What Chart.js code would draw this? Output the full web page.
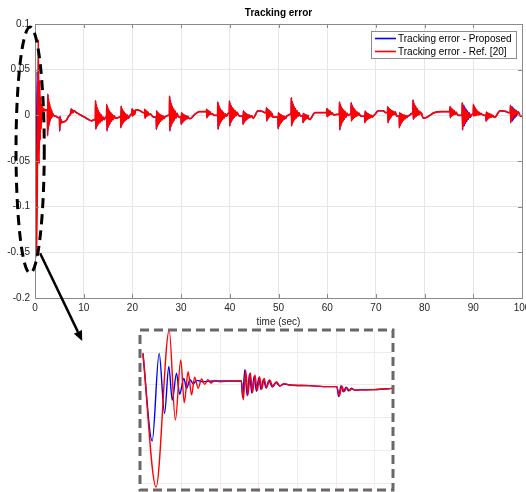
<!DOCTYPE html>
<html><head><meta charset="utf-8">
<script src="https://cdn.jsdelivr.net/npm/chart.js@4/dist/chart.umd.min.js"></script>
<style>
html,body{margin:0;padding:0;background:#fff;overflow:hidden;width:526px;height:492px;}
#wrap{position:relative;width:526px;height:492px;overflow:hidden;background:#fff;}
#main{position:absolute;left:0;top:0;}
#inset{position:absolute;left:134px;top:324px;}
</style></head><body>
<div id="wrap">
<canvas id="main" width="545" height="492" style="width:545px;height:492px"></canvas>
<canvas id="inset" width="266" height="168" style="width:266px;height:168px"></canvas>
</div>
<script>
// ---------- data ----------
const chartTitle = 'Tracking error';
const xAxisTitle = 'time (sec)';
const seriesNames = ['Tracking error - Proposed', 'Tracking error - Ref. [20]'];
const xTicks = [0,10,20,30,40,50,60,70,80,90,100];
const yTicks = [-0.2,-0.15,-0.1,-0.05,0,0.05,0.1];
const yTickLabels = ['-0.2','-0.15','-0.1','-0.05','0','0.05','0.1'];
const insetXTicks = [1,2,3,4,5,6];
const insetYTicks = [-0.15,-0.1,-0.05,0,0.05];

// first seconds (as seen in the zoomed inset)
const earlyRed = [
[0,0.048],[0.34,-0.155],[0.68,0.083],[0.84,-0.053],[0.98,0.038],[1.07,-0.027],[1.17,0.020],[1.26,-0.015],
[1.34,0.012],[1.43,-0.005],[1.52,0.009],[1.60,0.001],[1.68,0.008],[1.76,0.003],[1.86,0.007],[2.0,0.005],
[2.3,0.006],[2.55,0.006],
[2.60,-0.0226],[2.66,0.0226],[2.72,-0.0151],[2.78,0.0186],[2.84,-0.0115],[2.90,0.0151],[2.96,-0.0085],
[3.02,0.0126],[3.08,-0.006],[3.14,0.0100],[3.20,-0.004],[3.28,0.0075],[3.37,-0.0025],[3.46,0.005],
[3.55,-0.0015],[3.65,0.002],[3.80,0.0],[4.3,-0.001],[4.8,-0.0025],
[5.02,-0.0025],[5.09,-0.0166],[5.15,-0.0015],[5.21,-0.010],[5.28,-0.004],[5.35,-0.0085],[5.42,-0.0055],
[5.50,-0.008],[5.63,-0.0075],[6.0,-0.007],[6.5,-0.005]
];
const earlyBlue = [
[0,0.048],[0.24,-0.085],[0.42,0.048],[0.56,-0.043],[0.67,0.028],[0.76,-0.023],[0.87,0.018],[0.95,-0.014],
[1.06,0.010],[1.13,-0.005],[1.22,0.008],[1.30,0.002],[1.40,0.007],[1.55,0.005],[1.8,0.006],[2.55,0.006],
[2.58,-0.019],[2.64,0.0235],[2.70,-0.0165],[2.76,0.017],[2.82,-0.0125],[2.88,0.0135],[2.94,-0.0095],
[3.00,0.011],[3.06,-0.007],[3.12,0.0085],[3.19,-0.0045],[3.26,0.0065],[3.35,-0.003],[3.44,0.004],
[3.54,-0.0015],[3.66,0.0015],[3.80,0.0],[4.3,-0.001],[4.8,-0.0025],
[5.02,-0.0025],[5.07,-0.0175],[5.13,-0.001],[5.19,-0.0105],[5.26,-0.0035],[5.33,-0.009],[5.40,-0.005],
[5.48,-0.0078],[5.63,-0.0075],[6.0,-0.007],[6.5,-0.005]
];

// shared track (both controllers overlap), 6.5 s .. 100 s
const track0to20 = [
[6.9,-0.001],
[7.4,0.004],[7.44,0.007],[7.52,0.002],[7.65,0.006],[7.8,0.003],[8.0,0.005],
[8.5,0.003],[9.5,0.0],[10.5,-0.003],[11.6,-0.006],[12.1,-0.005],
[12.40,-0.004],[12.44,0.016],[12.50,-0.015],[12.60,0.012],[12.70,-0.0123],[12.80,0.0084],[12.90,-0.0104],[13.02,0.0054],
[13.14,-0.0087],[13.28,0.0028],[13.42,-0.0073],[13.58,0.0004],[13.76,-0.006],[13.96,-0.0018],[14.20,-0.0048],[14.50,-0.002],
[14.70,-0.002],[14.74,0.012],[14.80,-0.017],[14.90,0.0092],[15.00,-0.0133],[15.10,0.0067],[15.20,-0.0107],[15.32,0.0046],
[15.44,-0.0085],[15.58,0.0028],[15.72,-0.0065],[15.88,0.0011],[16.06,-0.0047],[16.26,-0.0005],[16.50,-0.0031],[16.80,-0.003],
[17.30,-0.002],
[17.60,-0.002],[17.64,-0.0135],[17.70,0.010],[17.80,-0.0112],[17.90,0.007],[18.00,-0.0091],[18.10,0.005],[18.22,-0.0074],
[18.34,0.0032],[18.48,-0.0059],[18.62,0.0016],[18.78,-0.0045],[18.96,0.0002],[19.16,-0.0033],[19.40,-0.0012],[19.70,0.001],
[19.90,0.002],[19.94,0.007],[20.00,-0.001],[20.10,0.006],[20.20,0.0],[20.32,0.005],[20.46,0.001],[20.62,0.0055]
];
const track20to40 = [
[20.80,0.006],[21.6,0.005],[22.2,0.003],
[22.50,0.003],[22.54,0.0065],[22.60,-0.003],[22.70,0.0055],[22.80,-0.0015],[22.92,0.0045],[23.04,-0.0005],[23.18,0.0035],
[23.34,0.0005],[23.60,0.0015],
[24.4,-0.002],
[24.90,-0.002],[24.94,-0.0153],[25.00,0.005],[25.10,-0.0126],[25.20,0.0033],[25.30,-0.0103],[25.40,0.0021],[25.52,-0.0083],
[25.64,0.001],[25.78,-0.0065],[25.92,0.0001],[26.08,-0.0049],[26.26,-0.0007],[26.46,-0.0035],[26.70,-0.0015],[27.00,-0.001],
[27.30,0.0],
[27.60,0.0],[27.64,0.021],[27.70,-0.017],[27.80,0.0168],[27.90,-0.0128],[28.00,0.013],[28.10,-0.0099],[28.22,0.0099],
[28.34,-0.0073],[28.48,0.0071],[28.62,-0.0051],[28.78,0.0046],[28.96,-0.0031],[29.16,0.0023],[29.40,-0.0012],[29.70,-0.002],
[30.00,-0.002],[30.04,-0.010],[30.10,0.003],[30.20,-0.0084],[30.30,0.0018],[30.40,-0.007],[30.50,0.0009],[30.62,-0.0058],
[30.74,0.0002],[30.88,-0.0047],[31.02,-0.0005],[31.18,-0.0038],[31.36,-0.0011],[31.56,-0.0029],[31.80,-0.0037],[32.10,-0.003],
[32.8,0.001],[33.8,0.004],[34.7,0.004],
[35.20,0.004],[35.24,0.0066],[35.30,-0.0026],[35.40,0.0058],[35.50,-0.001],[35.62,0.005],[35.74,0.0005],[35.88,0.0042],
[36.04,0.0012],[36.30,0.002],[36.8,0.0],[37.2,0.0],
[37.50,0.0],[37.54,0.0146],[37.60,-0.0153],[37.70,0.0117],[37.80,-0.0115],[37.90,0.009],[38.00,-0.0089],[38.12,0.0069],
[38.24,-0.0066],[38.38,0.005],[38.52,-0.0046],[38.68,0.0032],[38.86,-0.0028],[39.06,0.0016],[39.30,-0.0011],[39.60,0.002]
];
const track40to60 = [
[39.90,0.002],[39.94,0.0157],[40.00,-0.0117],[40.10,0.013],[40.20,-0.0083],[40.30,0.0105],[40.40,-0.006],[40.52,0.0084],
[40.64,-0.0039],[40.78,0.0067],[40.92,-0.0021],[41.08,0.005],[41.26,-0.0005],[41.46,0.0035],[41.70,0.001],[42.00,-0.001],
[42.40,-0.001],
[42.70,-0.001],[42.74,-0.0099],[42.80,0.005],[42.90,-0.0081],[43.00,0.0035],[43.10,-0.0065],[43.20,0.0025],[43.32,-0.0052],
[43.44,0.0016],[43.58,-0.004],[43.72,0.0008],[43.88,-0.003],[44.06,0.0001],[44.26,-0.002],[44.50,-0.0006],[44.80,-0.003],
[45.8,0.005],[46.8,0.004],[47.2,0.003],
[47.50,0.003],[47.54,0.0084],[47.60,-0.0062],[47.70,0.0072],[47.80,-0.0042],[47.90,0.0063],[48.00,-0.0025],[48.12,0.0052],
[48.24,-0.0012],[48.38,0.0042],[48.52,-0.0008],[48.68,0.002],[48.86,-0.002],[49.10,-0.002],
[49.5,-0.002],
[49.90,-0.002],[49.94,-0.0146],[50.00,0.003],[50.10,-0.0121],[50.20,0.0018],[50.30,-0.0098],[50.40,0.0009],[50.52,-0.0079],
[50.64,0.0002],[50.78,-0.0063],[50.92,-0.0005],[51.08,-0.0048],[51.26,-0.0011],[51.46,-0.0034],[51.70,-0.0007],[52.00,0.0],
[52.3,0.001],
[52.60,0.001],[52.64,0.0193],[52.70,-0.0117],[52.80,0.0156],[52.90,-0.0085],[53.00,0.0124],[53.10,-0.0064],[53.22,0.0096],
[53.34,-0.0045],[53.48,0.0072],[53.62,-0.0028],[53.78,0.005],[53.96,-0.0013],[54.16,0.003],[54.40,0.0001],[54.70,-0.001],
[55.00,-0.001],[55.04,-0.008],[55.10,0.002],[55.20,-0.0066],[55.30,0.0013],[55.40,-0.0053],[55.50,0.0007],[55.62,-0.0043],
[55.74,0.0003],[55.88,-0.0034],[56.02,-0.0001],[56.18,-0.0035],[56.40,-0.0045],
[57.5,0.003],[58.5,0.003],[59.4,0.003]
];
const track60to80 = [
[59.90,0.003],[59.94,0.0073],[60.00,-0.0015],[60.10,0.0065],[60.20,-0.0005],[60.32,0.0055],[60.44,0.0005],[60.58,0.0045],
[60.74,0.0012],[60.94,0.003],[61.3,0.0005],[62.1,0.001],
[62.50,0.001],[62.54,0.0146],[62.60,-0.016],[62.70,0.0119],[62.80,-0.0118],[62.90,0.0094],[63.00,-0.0089],[63.12,0.0074],
[63.24,-0.0063],[63.38,0.0056],[63.52,-0.0041],[63.68,0.004],[63.86,-0.0021],[64.06,0.0025],[64.30,-0.0002],[64.60,0.001],
[64.90,0.001],[64.94,0.0139],[65.00,-0.0062],[65.10,0.0113],[65.20,-0.0044],[65.30,0.009],[65.40,-0.0032],[65.52,0.0071],
[65.64,-0.0021],[65.78,0.0054],[65.92,-0.0012],[66.08,0.0038],[66.26,-0.0003],[66.46,0.0024],[66.70,0.0005],[67.00,-0.001],
[67.4,-0.001],
[67.70,-0.001],[67.74,-0.008],[67.80,0.0047],[67.90,-0.0066],[68.00,0.0033],[68.10,-0.0053],[68.20,0.0023],[68.32,-0.0043],
[68.44,0.0015],[68.58,-0.0034],[68.72,0.0007],[68.88,-0.0025],[69.06,0.0],[69.26,-0.0018],[69.50,-0.0006],[69.80,0.001],
[70.5,0.005],[71.5,0.005],[72.0,0.003],
[72.40,0.003],[72.44,0.0095],[72.50,-0.008],[72.60,0.0082],[72.70,-0.0053],[72.80,0.007],[72.90,-0.0034],[73.02,0.0061],
[73.14,-0.0017],[73.28,0.0052],[73.42,0.0],[73.58,0.0044],[73.76,0.001],[73.96,0.0037],[74.20,0.0],[74.5,-0.001],
[74.80,-0.001],[74.84,-0.0135],[74.90,0.003],[75.00,-0.011],[75.10,0.002],[75.20,-0.0088],[75.30,0.0013],[75.42,-0.0069],
[75.54,0.0007],[75.68,-0.0053],[75.82,0.0002],[75.98,-0.0038],[76.16,-0.0003],[76.36,-0.0024],[76.60,-0.0007],[76.90,0.0],
[77.3,0.002],
[77.60,0.002],[77.64,0.0168],[77.70,-0.0044],[77.80,0.0138],[77.90,-0.0028],[78.00,0.0112],[78.10,-0.0017],[78.22,0.009],
[78.34,-0.0008],[78.48,0.007],[78.62,0.0001],[78.78,0.0053],[78.96,0.0009],[79.16,0.0036],[79.40,0.0015],[79.70,-0.003]
];
const track80to100 = [
[80.5,-0.002],[82.0,0.003],[83.5,0.004],[84.7,0.004],
[85.20,0.004],[85.24,0.0095],[85.30,-0.0026],[85.40,0.0082],[85.50,-0.001],[85.60,0.007],[85.70,0.0],[85.82,0.006],
[85.94,0.0008],[86.08,0.005],[86.24,0.001],[86.44,0.0035],[86.70,0.001],[87.00,0.0],[87.4,0.0],
[87.70,0.0],[87.74,0.0139],[87.80,-0.016],[87.90,0.0111],[88.00,-0.012],[88.10,0.0086],[88.20,-0.0093],[88.32,0.0065],
[88.44,-0.0069],[88.58,0.0047],[88.72,-0.0048],[88.88,0.0031],[89.06,-0.0029],[89.26,0.0015],[89.50,-0.0011],[89.75,0.001],
[90.00,0.001],[90.04,0.012],[90.10,-0.0007],[90.20,0.0098],[90.30,-0.0003],[90.40,0.0078],[90.50,0.0],[90.62,0.0062],
[90.74,0.0003],[90.88,0.0047],[91.02,0.0005],[91.18,0.0034],[91.36,0.0007],[91.56,0.0022],[91.80,0.001],[92.2,0.0],
[92.60,0.0],[92.64,-0.0062],[92.70,0.0036],[92.80,-0.005],[92.90,0.0027],[93.00,-0.0038],[93.10,0.0021],[93.22,-0.0029],
[93.34,0.0015],[93.48,-0.0021],[93.62,0.0011],[93.78,-0.0018],[93.96,0.0],[94.16,-0.0015],[94.40,-0.002],
[95.5,0.005],[96.8,0.004],[97.2,0.003],
[97.60,0.003],[97.64,0.011],[97.70,-0.008],[97.80,0.0094],[97.90,-0.0053],[98.00,0.008],[98.10,-0.0034],[98.22,0.0068],
[98.34,-0.0017],[98.48,0.0057],[98.62,0.0],[98.78,0.0048],[98.96,0.001],[99.16,0.0039],[99.40,0.0022],[99.70,-0.001],
[100,-0.001]
];
// where the proposed controller's ripple is a little wider than Ref. [20]
const blueExtra = [
[88.05,0.0115],[88.15,-0.0115],[88.26,0.009],[88.38,-0.0088],[88.51,0.0068],[88.65,-0.0066],[88.80,0.0048],[88.97,-0.0045],
[89.16,0.003],[89.38,-0.0025],
[97.95,0.0095],[98.05,-0.0062],[98.16,0.0082],[98.28,-0.0045],[98.41,0.0068],[98.55,-0.003],[98.70,0.0058],[98.87,-0.001]
];

// ---------- build ----------
const toXY = arr => arr.map(p => ({x: p[0], y: p[1]}));
const track = [].concat(track0to20, track20to40, track40to60, track60to80, track80to100);
const redPts = toXY(earlyRed.concat(track));
const bluePts = toXY(earlyBlue.concat(track, blueExtra).sort((a, b) => a[0] - b[0]));

const FONT = "'Liberation Sans', Arial, Helvetica, sans-serif";
const TXT = '#262626';
const GRID = '#e6e6e6';
const FRAME = '#8a8a8a';

const decor = {
  id: 'decor',
  afterDraw(chart) {
    const {ctx, chartArea: a, scales: {x, y}} = chart;
    ctx.save();
    // frame
    ctx.strokeStyle = FRAME; ctx.lineWidth = 1; ctx.setLineDash([]);
    ctx.strokeRect(Math.round(a.left) + 0.5, Math.round(a.top) + 0.5, Math.round(a.right - a.left), Math.round(a.bottom - a.top));
    // inward ticks
    ctx.beginPath();
    xTicks.forEach(v => {
      const px = Math.round(x.getPixelForValue(v)) + 0.5;
      ctx.moveTo(px, a.bottom); ctx.lineTo(px, a.bottom - 4);
      ctx.moveTo(px, a.top); ctx.lineTo(px, a.top + 4);
    });
    yTicks.forEach(v => {
      const py = Math.round(y.getPixelForValue(v)) + 0.5;
      ctx.moveTo(a.left, py); ctx.lineTo(a.left + 4, py);
      ctx.moveTo(a.right, py); ctx.lineTo(a.right - 4, py);
    });
    ctx.stroke();
    // title and x-axis label
    ctx.fillStyle = '#000'; ctx.font = 'bold 10px ' + FONT;
    ctx.textAlign = 'center'; ctx.textBaseline = 'middle';
    ctx.fillText(chartTitle, (a.left + a.right) / 2, 13);
    ctx.fillStyle = TXT; ctx.font = '10px ' + FONT;
    ctx.fillText(xAxisTitle, (a.left + a.right) / 2, a.bottom + 24);
    // legend
    const lx = 371, ly = 31, lw = 146, lh = 28;
    ctx.fillStyle = '#fff'; ctx.fillRect(lx, ly, lw, lh);
    ctx.strokeStyle = '#8c8c8c'; ctx.lineWidth = 1;
    ctx.strokeRect(lx + 0.5, ly + 0.5, lw - 1, lh - 1);
    const entries = [[seriesNames[0], '#0000ff', 38.5], [seriesNames[1], '#ff0000', 51.5]];
    ctx.textAlign = 'left'; ctx.font = '10px ' + FONT;
    entries.forEach(([label, col, yy]) => {
      ctx.strokeStyle = col; ctx.lineWidth = 1.6;
      ctx.beginPath(); ctx.moveTo(375, yy); ctx.lineTo(396, yy); ctx.stroke();
      ctx.fillStyle = '#000'; ctx.fillText(label, 398, yy + 0.5);
    });
    // dashed ellipse around the start-up transient
    const cx = x.getPixelForValue(-1.0), cy = y.getPixelForValue(-0.038);
    const rx = x.getPixelForValue(1.9) - x.getPixelForValue(-1.0);
    const ry = y.getPixelForValue(-0.038) - y.getPixelForValue(0.0967);
    ctx.strokeStyle = '#000'; ctx.lineWidth = 3; ctx.setLineDash([10, 6]);
    ctx.beginPath(); ctx.ellipse(cx, cy, rx, ry, 0, 0, Math.PI * 2); ctx.stroke();
    // arrow to the inset
    ctx.setLineDash([]); ctx.lineWidth = 2.5;
    const x0 = x.getPixelForValue(1.05), y0 = y.getPixelForValue(-0.151);
    const x1 = x.getPixelForValue(9.7), y1 = y.getPixelForValue(-0.247);
    const ang = Math.atan2(y1 - y0, x1 - x0);
    const hx = x1 - 10 * Math.cos(ang), hy = y1 - 10 * Math.sin(ang);
    ctx.beginPath(); ctx.moveTo(x0, y0); ctx.lineTo(hx, hy); ctx.stroke();
    ctx.fillStyle = '#000'; ctx.beginPath();
    ctx.moveTo(x1, y1);
    ctx.lineTo(hx + 4.5 * Math.sin(ang), hy - 4.5 * Math.cos(ang));
    ctx.lineTo(hx - 4.5 * Math.sin(ang), hy + 4.5 * Math.cos(ang));
    ctx.closePath(); ctx.fill();
    ctx.restore();
  }
};

new Chart(document.getElementById('main'), {
  type: 'line',
  data: { datasets: [
    { label: seriesNames[1], data: redPts, borderColor: '#ff0000', borderWidth: 1.7, pointRadius: 0, order: 0, cubicInterpolationMode: 'monotone' },
    { label: seriesNames[0], data: bluePts, borderColor: '#0000ff', borderWidth: 1.3, pointRadius: 0, order: 1, cubicInterpolationMode: 'monotone' }
  ]},
  options: {
    responsive: false, animation: false, events: [],
    layout: { padding: { left: 0, top: 24, right: 23, bottom: 174 } },
    plugins: { legend: { display: false }, tooltip: { enabled: false }, title: { display: false } },
    scales: {
      x: {
        type: 'linear', min: 0, max: 100,
        afterBuildTicks: s => { s.ticks = xTicks.map(v => ({ value: v })); },
        grid: { color: GRID, drawTicks: false }, border: { display: false },
        ticks: { padding: 4, color: TXT, font: { family: FONT, size: 10 }, maxRotation: 0, autoSkip: false }
      },
      y: {
        type: 'linear', min: -0.2, max: 0.1,
        afterBuildTicks: s => { s.ticks = yTicks.map(v => ({ value: v })); },
        afterFit: s => { s.width = 35; },
        grid: { color: GRID, drawTicks: false }, border: { display: false },
        ticks: { padding: 5, color: TXT, font: { family: FONT, size: 10 }, autoSkip: false,
          callback: v => yTickLabels[yTicks.indexOf(v)] }
      }
    }
  },
  plugins: [decor]
});

const insetFrame = {
  id: 'insetFrame',
  afterDraw(chart) {
    const ctx = chart.ctx;
    ctx.save();
    ctx.strokeStyle = '#6b6767'; ctx.lineWidth = 3; ctx.setLineDash([9, 5]);
    ctx.strokeRect(6, 6, 253, 160);
    ctx.restore();
  }
};

new Chart(document.getElementById('inset'), {
  type: 'line',
  data: { datasets: [
    { data: toXY(earlyRed), borderColor: '#ff0000', borderWidth: 1.4, pointRadius: 0, order: 0, cubicInterpolationMode: 'monotone' },
    { data: toXY(earlyBlue), borderColor: '#0000ff', borderWidth: 1.4, pointRadius: 0, order: 1, cubicInterpolationMode: 'monotone' }
  ]},
  options: {
    responsive: false, animation: false, events: [],
    layout: { padding: { left: 7, top: 7, right: 8, bottom: 3 } },
    plugins: { legend: { display: false }, tooltip: { enabled: false } },
    scales: {
      x: { type: 'linear', min: -0.05, max: 6.45,
        afterBuildTicks: s => { s.ticks = insetXTicks.map(v => ({ value: v })); },
        afterFit: s => { s.height = 0; },
        grid: { color: '#ececec', drawTicks: false }, border: { display: false }, ticks: { display: false } },
      y: { type: 'linear', min: -0.158, max: 0.082,
        afterBuildTicks: s => { s.ticks = insetYTicks.map(v => ({ value: v })); },
        afterFit: s => { s.width = 0; },
        grid: { color: '#ececec', drawTicks: false }, border: { display: false }, ticks: { display: false } }
    }
  },
  plugins: [insetFrame]
});
</script>
</body></html>
